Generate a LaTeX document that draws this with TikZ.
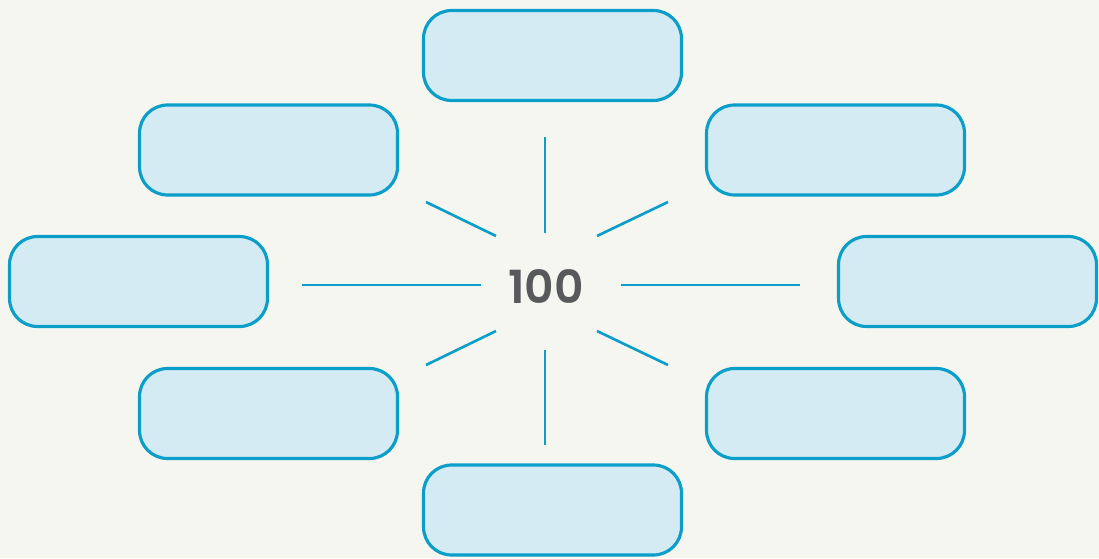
\documentclass[tikz,border=0pt]{standalone}
\usepackage{fontspec}
\setmainfont{Poppins}[BoldFont={Poppins SemiBold}]
\usepackage{xcolor}
\usepackage{tikz}
\definecolor{paper}{RGB}{246, 246, 241}
\definecolor{boxfill}{RGB}{212, 235, 244}
\definecolor{rim}{RGB}{10, 158, 201}
\definecolor{ink}{RGB}{88, 89, 91}

\begin{document}
\begin{tikzpicture}[x=0.02cm, y=-0.02cm,
  blank/.style={draw=rim, fill=boxfill, line width=1.8pt, rounded corners=0.56cm,
    minimum width=5.16cm, minimum height=1.8cm, inner sep=0pt},
  ray/.style={draw=rim, line width=1.5pt}]
  % Background
  \fill[paper] (0,0) rectangle (1099,558);
  \useasboundingbox (0,0) rectangle (1099,558);

  % Centre number
  \node[text=ink, font=\bfseries\fontsize{26}{30}\selectfont] (num) at (546,287) {100};

  % Blank boxes
  \node[blank] (top) at (552.5,55.5) {};
  \node[blank] (topleft) at (268.5,150) {};
  \node[blank] (topright) at (835.5,150) {};
  \node[blank] (left) at (138.5,281.5) {};
  \node[blank] (right) at (967.5,281.5) {};
  \node[blank] (botleft) at (268.5,413.5) {};
  \node[blank] (botright) at (835.5,413.5) {};
  \node[blank] (bottom) at (552.5,510) {};

  % Ray ends
  \coordinate (N1) at (545,137);   \coordinate (N2) at (545,233);
  \coordinate (S1) at (545,350);   \coordinate (S2) at (545,445);
  \coordinate (W1) at (302,285);   \coordinate (W2) at (481,285);
  \coordinate (E1) at (621,285);   \coordinate (E2) at (800,285);
  \coordinate (NW1) at (426,202);  \coordinate (NW2) at (496,236);
  \coordinate (NE1) at (597,236);  \coordinate (NE2) at (668,202);
  \coordinate (SW1) at (426,365);  \coordinate (SW2) at (496,331);
  \coordinate (SE1) at (597,331);  \coordinate (SE2) at (668,365);

  % Rays
  \foreach \r in {N,S,W,E,NW,NE,SW,SE}
    \draw[ray] (\r1) -- (\r2);
\end{tikzpicture}
\end{document}
